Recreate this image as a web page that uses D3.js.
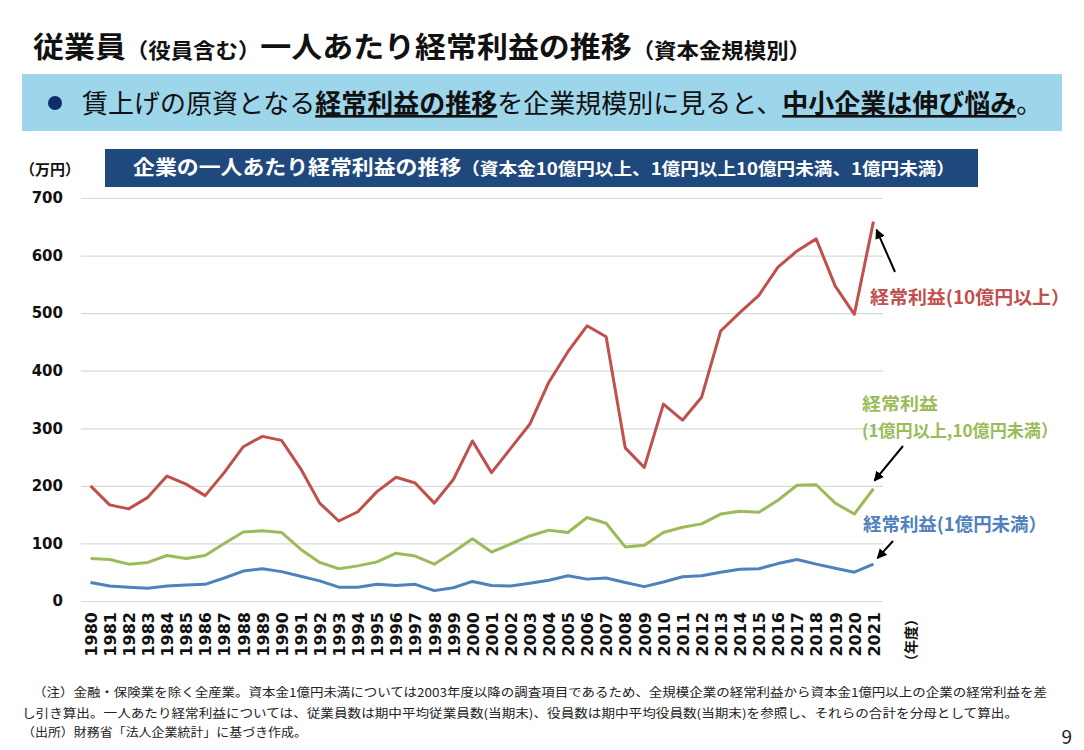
<!DOCTYPE html>
<html>
<head>
<meta charset="utf-8">
<script src="https://cdn.jsdelivr.net/npm/d3@7"></script>
<style>
    body { margin: 0; background: #fff; }
    svg { display: block; }
    .jp { font-family: "Noto Sans CJK JP", "Noto Sans", sans-serif; }
    .num { font-family: "DejaVu Sans", Verdana, sans-serif; font-weight: bold; }
</style>
</head>
<body>
<div id="chart"></div>
<script>
// data (万円)
const years = d3.range(1980, 2022).map(String);

const large = [200, 167, 160, 180, 217, 203, 183, 223, 268, 286, 279, 230, 170, 139, 155, 190, 215, 205, 170, 211,
    278, 223, 265, 307, 380, 433, 478, 459, 266, 232, 342, 314, 354, 469, 501, 531, 580, 608, 629, 547, 498, 659];
const medium = [74, 72, 64, 67, 79, 74, 79, 100, 120, 122, 119, 90, 67, 56, 61, 68, 83, 78, 64, 85,
    108, 85, 99, 113, 123, 119, 145, 135, 94, 97, 119, 128, 134, 151, 156, 154, 175, 201, 202, 170, 151, 195];
const small = [32, 26, 24, 22, 26, 28, 29, 40, 52, 56, 51, 43, 35, 24, 24, 29, 27, 29, 18, 23,
    34, 27, 26, 31, 36, 44, 38, 40, 32, 25, 33, 42, 44, 50, 55, 56, 65, 72, 64, 57, 50, 64];

const yTicks = [0, 100, 200, 300, 400, 500, 600, 700];

const series = [
    { name: "large", values: large, color: "#C0504D" },
    { name: "medium", values: medium, color: "#9BBB59" },
    { name: "small", values: small, color: "#4F81BD" }
];

const W = 1084, H = 750;

const svg = d3.select("#chart").append("svg")
    .attr("width", W)
    .attr("height", H);

svg.append("defs").append("marker")
    .attr("id", "arrow")
    .attr("viewBox", "0 0 10 10")
    .attr("refX", 9).attr("refY", 5)
    .attr("markerWidth", 5).attr("markerHeight", 5)
    .attr("orient", "auto")
    .append("path")
    .attr("d", "M0,0 L10,5 L0,10 z")
    .attr("fill", "#000");

// page title
let title = svg.append("text")
    .attr("class", "jp")
    .attr("x", 33).attr("y", 58)
    .attr("font-weight", "bold")
    .attr("fill", "#111")
    .attr("textLength", 778)
    .attr("lengthAdjust", "spacingAndGlyphs");
title.append("tspan").attr("font-size", 29).text("従業員");
title.append("tspan").attr("font-size", 21).text("（役員含む）");
title.append("tspan").attr("font-size", 29).text("一人あたり経常利益の推移");
title.append("tspan").attr("font-size", 21).text("（資本金規模別）");

// message band
svg.append("rect")
    .attr("x", 22).attr("y", 74)
    .attr("width", 1040).attr("height", 57)
    .attr("fill", "#9DD5EA");

svg.append("circle")
    .attr("cx", 55).attr("cy", 103).attr("r", 7)
    .attr("fill", "#0F2D6B");

let msg = svg.append("text")
    .attr("class", "jp")
    .attr("x", 82).attr("y", 113)
    .attr("font-size", 26)
    .attr("fill", "#111");
msg.append("tspan").text("賃上げの原資となる");
msg.append("tspan").attr("font-weight", "bold").attr("text-decoration", "underline").text("経常利益の推移");
msg.append("tspan").text("を企業規模別に見ると、");
msg.append("tspan").attr("font-weight", "bold").attr("text-decoration", "underline").text("中小企業は伸び悩み");
msg.append("tspan").text("。");

// chart header
svg.append("rect")
    .attr("x", 105).attr("y", 149)
    .attr("width", 873).attr("height", 38)
    .attr("fill", "#1F497D");

let head = svg.append("text")
    .attr("class", "jp")
    .attr("x", 133).attr("y", 175)
    .attr("font-weight", "bold")
    .attr("fill", "#fff")
    .attr("textLength", 822)
    .attr("lengthAdjust", "spacingAndGlyphs");
head.append("tspan").attr("font-size", 20).text("企業の一人あたり経常利益の推移");
head.append("tspan").attr("font-size", 17).text("（資本金10億円以上、1億円以上10億円未満、1億円未満）");

svg.append("text")
    .attr("class", "jp")
    .attr("x", 20).attr("y", 175)
    .attr("font-size", 15).attr("font-weight", "bold")
    .attr("fill", "#111")
    .text("（万円）");

// scales
const margin = { left: 81, right: 883, top: 198, bottom: 601 };

const x = d3.scalePoint()
    .domain(years)
    .range([margin.left, margin.right])
    .padding(0.5);

const y = d3.scaleLinear()
    .domain([0, 700])
    .range([margin.bottom, margin.top]);

// y axis + grid
const yAxis = d3.axisLeft(y)
    .tickValues(yTicks)
    .tickSize(-(margin.right - margin.left))
    .tickPadding(18);

const yg = svg.append("g")
    .attr("transform", "translate(" + margin.left + ",0)")
    .call(yAxis);
yg.select(".domain").remove();
yg.selectAll(".tick line").attr("stroke", "#d9d9d9").attr("stroke-width", 1.2);
yg.selectAll(".tick text")
    .attr("class", "num")
    .attr("font-size", 15)
    .attr("fill", "#111");

// x axis
const xAxis = d3.axisBottom(x).tickSize(0);
const xg = svg.append("g")
    .attr("transform", "translate(0," + margin.bottom + ")")
    .call(xAxis);
xg.select(".domain").remove();
xg.selectAll(".tick text")
    .attr("class", "num")
    .attr("font-size", 16)
    .attr("fill", "#111")
    .attr("transform", "rotate(-90)")
    .attr("x", -11).attr("y", 0)
    .attr("dy", "0.36em")
    .style("text-anchor", "end");

svg.append("text")
    .attr("class", "jp")
    .attr("transform", "translate(911,612) rotate(-90)")
    .attr("dy", "0.36em")
    .attr("text-anchor", "end")
    .attr("font-size", 14).attr("font-weight", "bold")
    .attr("fill", "#111")
    .text("（年度）");

// lines
const line = d3.line()
    .x((d, i) => x(years[i]))
    .y(d => y(d));

svg.selectAll("path.series")
    .data(series)
    .enter()
    .append("path")
    .attr("class", "series")
    .attr("d", d => line(d.values))
    .attr("fill", "none")
    .attr("stroke", d => d.color)
    .attr("stroke-width", 3)
    .attr("stroke-linejoin", "round");

// annotations
const lastX = x(years[years.length - 1]);

function arrow(x1, y1, x2, y2) {
    svg.append("line")
        .attr("x1", x1).attr("y1", y1)
        .attr("x2", x2).attr("y2", y2)
        .attr("stroke", "#000").attr("stroke-width", 2)
        .attr("marker-end", "url(#arrow)");
}

arrow(895, 272, lastX + 3, y(large[large.length - 1]) + 8);
arrow(903, 446, lastX + 1, y(medium[medium.length - 1]) - 8);
arrow(893, 541, lastX + 4, y(small[small.length - 1]) - 6);

svg.append("text")
    .attr("class", "jp")
    .attr("x", 870).attr("y", 304)
    .attr("font-size", 18).attr("font-weight", "bold")
    .attr("fill", "#C0504D")
    .attr("textLength", 200)
    .attr("lengthAdjust", "spacingAndGlyphs")
    .text("経常利益(10億円以上）");

let green = svg.append("text")
    .attr("class", "jp")
    .attr("font-size", 17).attr("font-weight", "bold")
    .attr("fill", "#9BBB59");
green.append("tspan").attr("x", 862).attr("y", 410)
    .attr("textLength", 76)
    .attr("lengthAdjust", "spacingAndGlyphs")
    .text("経常利益");
green.append("tspan").attr("x", 862).attr("y", 437)
    .attr("textLength", 196)
    .attr("lengthAdjust", "spacingAndGlyphs")
    .text("(1億円以上,10億円未満）");

svg.append("text")
    .attr("class", "jp")
    .attr("x", 863).attr("y", 531)
    .attr("font-size", 18).attr("font-weight", "bold")
    .attr("fill", "#4F81BD")
    .attr("textLength", 184)
    .attr("lengthAdjust", "spacingAndGlyphs")
    .text("経常利益(1億円未満）");

// notes
const notes = [
    { x: 33, y: 697, w: 1014, t: "（注）金融・保険業を除く全産業。資本金1億円未満については2003年度以降の調査項目であるため、全規模企業の経常利益から資本金1億円以上の企業の経常利益を差" },
    { x: 22, y: 718, w: 996, t: "し引き算出。一人あたり経常利益については、従業員数は期中平均従業員数(当期末)、役員数は期中平均役員数(当期末)を参照し、それらの合計を分母として算出。" },
    { x: 22, y: 737, w: 285, t: "（出所）財務省「法人企業統計」に基づき作成。" }
];

svg.selectAll("text.note")
    .data(notes)
    .enter()
    .append("text")
    .attr("class", "note jp")
    .attr("x", d => d.x).attr("y", d => d.y)
    .attr("font-size", 12)
    .attr("fill", "#222")
    .attr("textLength", d => d.w)
    .attr("lengthAdjust", "spacingAndGlyphs")
    .text(d => d.t);

svg.append("text")
    .attr("class", "jp")
    .attr("x", 1072).attr("y", 744)
    .attr("text-anchor", "end")
    .attr("font-size", 19)
    .attr("fill", "#222")
    .text("9");
</script>
</body>
</html>
